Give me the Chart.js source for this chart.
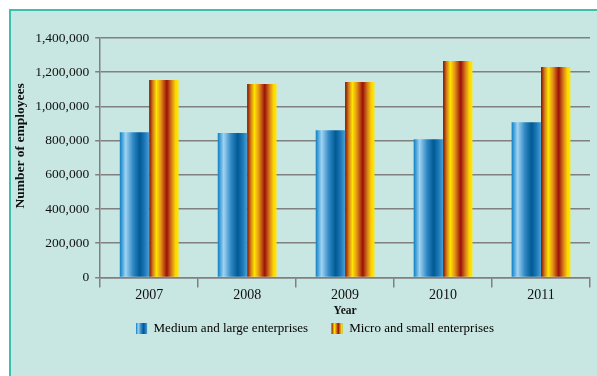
<!DOCTYPE html>
<html>
<head>
<meta charset="utf-8">
<script src="https://cdn.jsdelivr.net/npm/chart.js@4/dist/chart.umd.min.js"></script>
<style>
  html, body { margin: 0; padding: 0; background: #fff; }
  #panel {
    position: absolute; left: 9px; top: 9px; width: 588px; height: 367px;
    background: #c9e7e2; border-left: 2px solid #3dbfae; border-top: 2px solid #3dbfae;
  }
  #wrap { position: absolute; left: 0; top: 0; width: 586px; height: 365px; }
</style>
</head>
<body>
<div id="panel"><div id="wrap"><canvas id="myChart"></canvas></div></div>
<script>
// eje X
var years = ['2007', '2008', '2009', '2010', '2011'];
// eje Y
var mediumLarge = [849000, 844000, 861000, 808000, 908000];
var microSmall = [1154000, 1131000, 1142000, 1265000, 1230000];
var seriesNames = ['Medium and large enterprises', 'Micro and small enterprises'];

var blueStops = [[0, '#0b7fc4'], [0.2, '#9fd3f2'], [0.45, '#3088c4'], [0.68, '#005a94'], [0.85, '#1f78b8'], [1, '#4a9fd4']];
var orangeStops = [[0, '#7e0d00'], [0.12, '#d27a1a'], [0.25, '#ffe400'], [0.4, '#e39218'], [0.6, '#9a1208'], [0.75, '#d5781a'], [0.9, '#ffd800'], [1, '#ffe800']];
var catPct = 0.6;

function makeGrad(c, left, w, stops) {
    var g = c.createLinearGradient(left, 0, left + w, 0);
    stops.forEach(function (s) { g.addColorStop(s[0], s[1]); });
    return g;
}

function barColor(context) {
    var chart = context.chart;
    var stops = context.datasetIndex === 0 ? blueStops : orangeStops;
    var xs = chart.scales.x;
    if (!xs || !chart.chartArea || context.dataIndex === undefined) return stops[1][1];
    var catW = xs.width / years.length;
    var half = catW * catPct / 2;
    var cx = xs.getPixelForValue(context.dataIndex);
    var left = context.datasetIndex === 0 ? cx - half : cx;
    return makeGrad(chart.ctx, left, half, stops);
}

// mueve la leyenda un poco a la derecha y pinta sus cajas con degradado
var legendGrad = {
    id: 'legendGrad',
    afterLayout: function (chart) {
        var lg = chart.legend;
        if (!lg) return;
        lg.left += 14;
        lg.right += 14;
    },
    afterDraw: function (chart) {
        var lg = chart.legend;
        if (!lg || !lg.legendHitBoxes) return;
        var c = chart.ctx;
        var bw = lg.options.labels.boxWidth, bh = lg.options.labels.boxHeight;
        lg.legendHitBoxes.forEach(function (hb, i) {
            var top = hb.top + (hb.height - bh) / 2;
            c.save();
            c.fillStyle = makeGrad(c, hb.left, bw, i === 0 ? blueStops : orangeStops);
            c.fillRect(hb.left, top, bw, bh);
            c.restore();
        });
    }
};

var serif = "'Liberation Serif', 'Times New Roman', serif";
var gridCol = '#808080';

var ctx = document.getElementById('myChart').getContext('2d');
var myChart = new Chart(ctx, {
    type: 'bar',
    data: {
        labels: years,
        datasets: [{
            label: seriesNames[0],
            data: mediumLarge,
            backgroundColor: barColor,
            borderWidth: 0,
            categoryPercentage: catPct,
            barPercentage: 1
        }, {
            label: seriesNames[1],
            data: microSmall,
            backgroundColor: barColor,
            borderWidth: 0,
            categoryPercentage: catPct,
            barPercentage: 1
        }]
    },
    options: {
        responsive: true,
        maintainAspectRatio: false,
        animation: false,
        layout: { padding: { top: 27, right: 7, bottom: 31, left: 1 } },
        plugins: {
            tooltip: { enabled: false },
            legend: {
                position: 'bottom',
                labels: {
                    boxWidth: 11,
                    boxHeight: 11,
                    padding: 4,
                    color: '#111',
                    font: { family: serif, size: 13 },
                    generateLabels: function (chart) {
                        return chart.data.datasets.map(function (ds, i) {
                            // espacios al final para separar los dos items
                            var txt = i === 0 ? ds.label + '      ' : ds.label;
                            return { text: txt, fillStyle: '#2a86c6', strokeStyle: 'rgba(0,0,0,0)', lineWidth: 0, datasetIndex: i };
                        });
                    }
                }
            }
        },
        scales: {
            x: {
                grid: { drawOnChartArea: false, drawTicks: true, tickLength: 10, color: gridCol, lineWidth: 1.5 },
                border: { color: gridCol, width: 1.5 },
                ticks: { color: '#111', font: { family: serif, size: 14 }, padding: 0 },
                title: { display: true, text: 'Year', color: '#111', font: { family: serif, size: 11.5, weight: 'bold' }, padding: { top: 0, bottom: 0 } }
            },
            y: {
                min: 0,
                max: 1400000,
                ticks: {
                    stepSize: 200000,
                    color: '#111',
                    font: { family: serif, size: 13.5 },
                    padding: 6,
                    callback: function (v) { return v.toLocaleString('en-US'); }
                },
                grid: { color: gridCol, lineWidth: 1.5, tickLength: 5 },
                border: { color: gridCol, width: 1.5 },
                // espacios al inicio para subir el titulo como en el original
                title: { display: true, text: '       Number of employees', color: '#111', font: { family: serif, size: 13.5, weight: 'bold' }, padding: { top: 0, bottom: 1 } }
            }
        }
    },
    plugins: [legendGrad]
});
</script>
</body>
</html>
